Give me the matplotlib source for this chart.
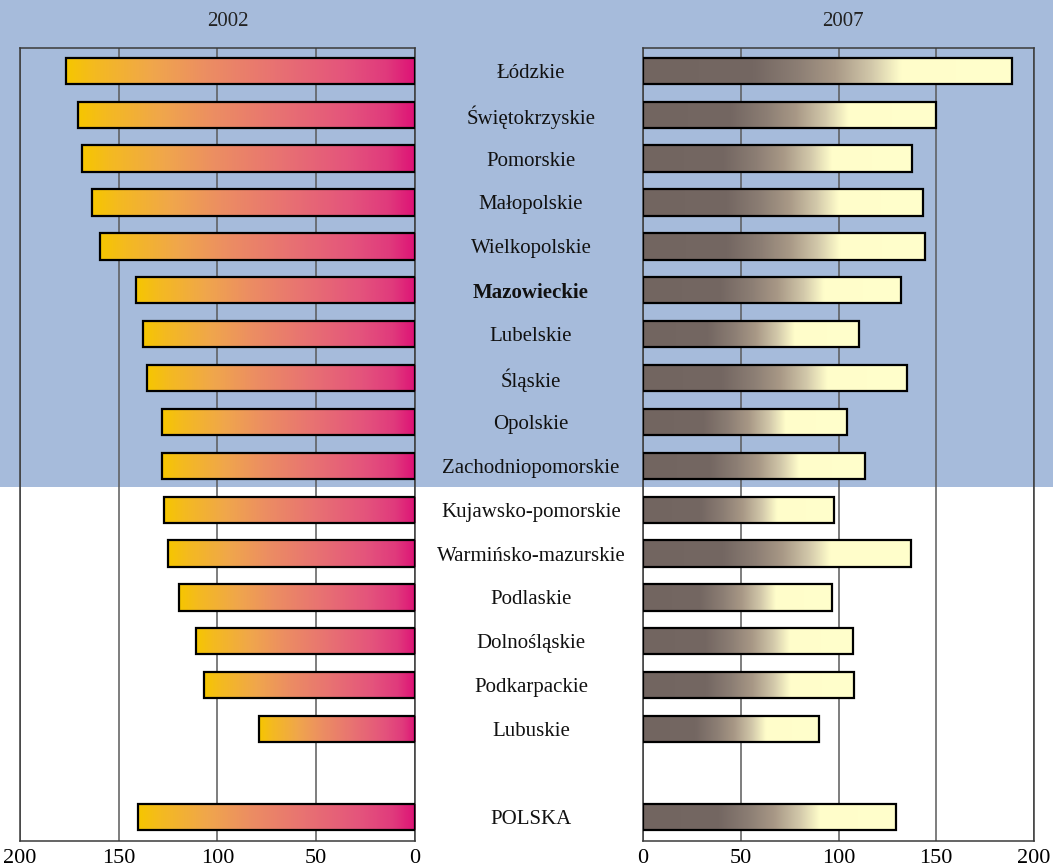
import numpy as np
import matplotlib.pyplot as plt
import matplotlib.transforms as mtransforms
from matplotlib.colors import LinearSegmentedColormap
from matplotlib.patches import Rectangle

plt.rcParams['font.family'] = ['Liberation Serif', 'DejaVu Serif']

# data
regions = ['Łódzkie', 'Świętokrzyskie', 'Pomorskie', 'Małopolskie', 'Wielkopolskie',
           'Mazowieckie', 'Lubelskie', 'Śląskie', 'Opolskie', 'Zachodniopomorskie',
           'Kujawsko-pomorskie', 'Warmińsko-mazurskie', 'Podlaskie', 'Dolnośląskie',
           'Podkarpackie', 'Lubuskie', 'POLSKA']
rows = list(range(16)) + [17]
v2002 = [176.7, 170.6, 168.6, 163.5, 159.5, 141.3, 137.7, 135.7, 128.1, 128.1,
         127.1, 125.1, 119.5, 110.9, 106.8, 79.0, 140.3]
v2007 = [188.7, 149.9, 137.6, 143.2, 144.2, 132.0, 110.5, 135.0, 104.3, 113.6,
         97.7, 137.0, 96.7, 107.4, 107.9, 90.0, 129.4]
ticks = [0, 50, 100, 150, 200]
bold_label = 'Mazowieckie'

cmap_left = LinearSegmentedColormap.from_list('left', [
    (0.0, '#F6C600'), (0.08, '#F4BA20'), (0.25, '#F0A64C'), (0.4, '#EC8E62'),
    (0.6, '#E87272'), (0.8, '#E4547C'), (0.92, '#E03A7C'), (1.0, '#DE1276')])
cmap_right = LinearSegmentedColormap.from_list('right', [
    (0.0, '#726560'), (0.3, '#746762'), (0.42, '#8C7E74'), (0.52, '#A89886'),
    (0.62, '#D2C8AA'), (0.7, '#FFFDCA'), (1.0, '#FFFFCC')])

fig = plt.figure(figsize=(10.53, 8.68), dpi=100, facecolor='white')
# blue background band behind the first ten regions
fig.patches.append(Rectangle((0, 1 - 487 / 868), 1, 487 / 868, transform=fig.transFigure,
                             facecolor='#A6BBDB', edgecolor='none', zorder=-1))

ax1 = fig.add_axes([20 / 1053, 1 - 841 / 868, 395 / 1053, 793 / 868])
ax2 = fig.add_axes([643 / 1053, 1 - 841 / 868, 391 / 1053, 793 / 868])

h = 0.6
grad = np.linspace(0, 1, 256).reshape(1, -1)

for ax, vals, cmap in [(ax1, v2002, cmap_left), (ax2, v2007, cmap_right)]:
    ax.set_facecolor('none')
    bars = ax.barh(rows, vals, height=h, facecolor='none', edgecolor='black',
                   linewidth=1.6, zorder=3)
    for b, y, v in zip(bars, rows, vals):
        im = ax.imshow(grad, cmap=cmap, aspect='auto', zorder=2,
                       extent=(v, 0, y + h / 2, y - h / 2) if ax is ax1 else (0, v, y + h / 2, y - h / 2))
        im.set_clip_path(b)
    ax.set_ylim(17.55, -0.52)
    ax.set_yticks([])
    ax.set_xticks(ticks)
    ax.grid(axis='x', color='#5a5a5a', linewidth=1.1, zorder=1)
    ax.tick_params(axis='x', length=0, labelsize=16, pad=6)
    for s in ax.spines.values():
        s.set_color('#3a3a3a')
        s.set_linewidth(1.1)

ax1.set_xlim(200, 0)
ax2.set_xlim(0, 200)

fig.text(228 / 1053, 1 - 19 / 868, '2002', ha='center', va='center_baseline', fontsize=15, color='#222222')
fig.text(843 / 1053, 1 - 19 / 868, '2007', ha='center', va='center_baseline', fontsize=15, color='#222222')

trans = mtransforms.blended_transform_factory(fig.transFigure, ax1.transData)
for name, y in zip(regions, rows):
    ax1.text(531 / 1053, y, name, transform=trans, ha='center', va='center_baseline', fontsize=15,
             fontweight='bold' if name == bold_label else 'normal', color='#111111',
             clip_on=False)

fig.savefig('out.png', dpi=100, facecolor=fig.get_facecolor())
